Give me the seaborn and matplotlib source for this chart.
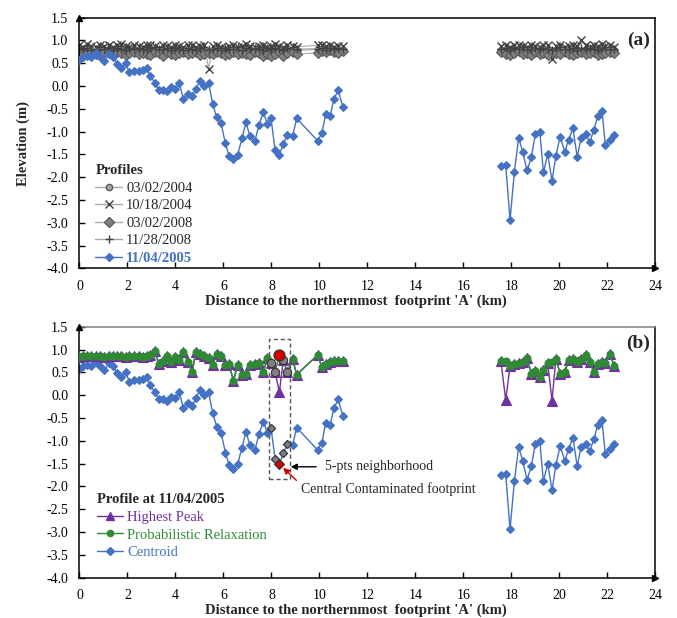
import matplotlib
matplotlib.use("Agg")
import matplotlib.pyplot as plt
import numpy as np
import pandas as pd
import seaborn as sns
from matplotlib.lines import Line2D
from matplotlib.patches import Rectangle

# ---------------------------------------------------------------- data
# along-track distance (km) of the footprints, northern and southern groups
km_north = [0.00, 0.13, 0.30, 0.48, 0.67, 0.85, 1.03, 1.24, 1.41, 1.58,
            1.73, 1.92, 2.08, 2.27, 2.47, 2.63, 2.80, 2.94, 3.15, 3.30,
            3.49, 3.63, 3.81, 3.98, 4.16, 4.33, 4.51, 4.69, 4.85, 5.02,
            5.20, 5.38, 5.55, 5.72, 5.90, 6.08, 6.24, 6.41, 6.59, 6.77,
            6.94, 7.10, 7.31, 7.48, 7.66, 7.83, 7.98, 8.15, 8.33, 8.49,
            8.66, 8.88, 9.05, 9.92, 10.10, 10.26, 10.44, 10.60, 10.78, 10.97]
km_south = [17.56, 17.76, 17.94, 18.12, 18.30, 18.47, 18.65, 18.83, 18.99, 19.18,
            19.33, 19.51, 19.69, 19.85, 20.03, 20.22, 20.38, 20.56, 20.74, 20.90,
            21.09, 21.26, 21.43, 21.59, 21.77, 21.91, 22.10, 22.28]

# 11/04/2005 profile, centroid solution (m)
centroid_north = [0.58, 0.63, 0.66, 0.64, 0.72, 0.63, 0.55, 0.70, 0.63, 0.48,
                  0.40, 0.50, 0.30, 0.34, 0.33, 0.35, 0.39, 0.22, 0.07, -0.09,
                  -0.09, -0.12, -0.03, -0.07, 0.06, -0.29, -0.18, -0.23, -0.07, 0.12,
                  0.01, 0.06, -0.39, -0.69, -0.82, -1.26, -1.54, -1.61, -1.51, -1.15,
                  -0.80, -1.10, -1.20, -0.85, -0.58, -0.83, -0.71, -1.40, -1.51, -1.27,
                  -1.07, -1.10, -0.71, -1.20, -1.04, -0.61, -0.66, -0.29, -0.09, -0.45]
centroid_south = [-1.75, -1.73, -2.94, -1.89, -1.13, -1.45, -1.85, -1.56, -1.06, -1.00,
                  -1.89, -1.50, -2.08, -1.53, -1.11, -1.44, -1.18, -0.93, -1.56, -1.13,
                  -1.06, -1.23, -0.97, -0.66, -0.54, -1.29, -1.18, -1.07]

# 11/04/2005 profile, probabilistic relaxation solution (m)
relax_north = [0.84, 0.86, 0.85, 0.87, 0.85, 0.86, 0.84, 0.87, 0.86, 0.85,
               0.87, 0.84, 0.86, 0.85, 0.86, 0.84, 0.86, 0.88, 0.96, 0.69,
               0.75, 0.86, 0.72, 0.83, 0.78, 0.94, 0.73, 0.50, 0.95, 0.91,
               0.86, 0.82, 0.66, 0.91, 0.85, 0.66, 0.69, 0.31, 0.66, 0.44,
               0.47, 0.66, 0.68, 0.71, 0.50, 0.82, 0.70, 0.50, 0.88, 0.77,
               0.50, 0.80, 0.45, 0.88, 0.62, 0.68, 0.72, 0.74, 0.76, 0.74]
relax_south = [0.75, 0.75, 0.64, 0.69, 0.70, 0.72, 0.82, 0.47, 0.52, 0.40,
               0.55, 0.70, 0.72, 0.80, 0.47, 0.50, 0.77, 0.80, 0.73, 0.80,
               0.88, 0.73, 0.51, 0.69, 0.73, 0.70, 0.90, 0.64]

# 11/04/2005 profile, highest peak solution (m)
peak_north = [0.84, 0.86, 0.85, 0.87, 0.85, 0.86, 0.84, 0.87, 0.86, 0.85,
              0.87, 0.84, 0.86, 0.85, 0.86, 0.84, 0.86, 0.88, 0.96, 0.69,
              0.75, 0.86, 0.72, 0.83, 0.78, 0.94, 0.73, 0.50, 0.95, 0.91,
              0.86, 0.82, 0.66, 0.91, 0.85, 0.66, 0.69, 0.31, 0.66, 0.44,
              0.47, 0.66, 0.68, 0.71, 0.50, 0.82, 0.70, 0.50, 0.07, 0.77,
              0.50, 0.80, 0.45, 0.88, 0.62, 0.68, 0.72, 0.74, 0.76, 0.74]
peak_south = [0.75, -0.11, 0.64, 0.69, 0.70, 0.72, 0.82, 0.47, 0.52, 0.40,
              0.55, 0.70, -0.12, 0.80, 0.47, 0.50, 0.77, 0.80, 0.73, 0.80,
              0.88, 0.73, 0.51, 0.69, 0.73, 0.70, 0.90, 0.64]

# reference profiles from other dates (m)
p20040302_north = [0.80, 0.78, 0.82, 0.79, 0.77, 0.81, 0.78, 0.80, 0.76, 0.79,
                   0.82, 0.78, 0.77, 0.80, 0.79, 0.76, 0.78, 0.81, 0.79, 0.77,
                   0.80, 0.78, 0.76, 0.79, 0.81, 0.78, 0.77, 0.80, 0.75, 0.78,
                   0.80, 0.77, 0.79, 0.81, 0.78, 0.76, 0.79, 0.80, 0.77, 0.78,
                   0.82, 0.79, 0.76, 0.78, 0.80, 0.77, 0.79, 0.81, 0.78, 0.76,
                   0.80, 0.79, 0.78, 0.80, 0.82, 0.79, 0.81, 0.78, 0.80, 0.79]
p20040302_south = [0.80, 0.78, 0.76, 0.79, 0.81, 0.77, 0.78, 0.80, 0.76, 0.79,
                   0.81, 0.78, 0.77, 0.80, 0.79, 0.76, 0.78, 0.81, 0.80, 0.77,
                   0.79, 0.82, 0.78, 0.80, 0.77, 0.79, 0.81, 0.78]

p20041018_north = [0.90, 0.86, 0.92, 0.88, 0.85, 0.90, 0.87, 0.91, 0.86, 0.89,
                   0.92, 0.87, 0.85, 0.90, 0.88, 0.86, 0.91, 0.89, 0.87, 0.84,
                   0.90, 0.88, 0.86, 0.91, 0.87, 0.85, 0.89, 0.90, 0.86, 0.88,
                   0.91, 0.38, 0.87, 0.89, 0.86, 0.84, 0.88, 0.90, 0.86, 0.87,
                   0.92, 0.88, 0.85, 0.87, 0.91, 0.86, 0.88, 0.93, 0.87, 0.85,
                   0.90, 0.88, 0.86, 0.89, 0.91, 0.87, 0.90, 0.86, 0.88, 0.87]
p20041018_south = [0.88, 0.90, 0.86, 0.89, 0.91, 0.87, 0.85, 0.90, 0.88, 0.86,
                   0.91, 0.89, 0.60, 0.87, 0.90, 0.86, 0.88, 0.91, 0.87, 1.00,
                   0.89, 0.86, 0.90, 0.88, 0.92, 0.87, 0.89, 0.86]

p20080302_north = [0.74, 0.70, 0.73, 0.76, 0.71, 0.69, 0.74, 0.72, 0.70, 0.75,
                   0.73, 0.68, 0.72, 0.74, 0.70, 0.73, 0.71, 0.69, 0.75, 0.72,
                   0.66, 0.74, 0.71, 0.68, 0.73, 0.75, 0.70, 0.72, 0.74, 0.69,
                   0.71, 0.73, 0.70, 0.74, 0.72, 0.68, 0.71, 0.75, 0.70, 0.73,
                   0.71, 0.69, 0.74, 0.72, 0.66, 0.70, 0.65, 0.71, 0.74, 0.65,
                   0.72, 0.75, 0.70, 0.73, 0.76, 0.74, 0.78, 0.75, 0.73, 0.76]
p20080302_south = [0.74, 0.71, 0.69, 0.73, 0.76, 0.70, 0.72, 0.68, 0.74, 0.71,
                   0.73, 0.69, 0.75, 0.72, 0.70, 0.74, 0.71, 0.68, 0.73, 0.75,
                   0.70, 0.72, 0.74, 0.69, 0.71, 0.73, 0.75, 0.72]

p20081128_north = [0.83, 0.81, 0.84, 0.80, 0.82, 0.85, 0.81, 0.83, 0.80, 0.84,
                   0.82, 0.79, 0.83, 0.81, 0.84, 0.82, 0.80, 0.83, 0.85, 0.81,
                   0.82, 0.84, 0.80, 0.83, 0.81, 0.79, 0.84, 0.82, 0.80, 0.83,
                   0.85, 0.81, 0.82, 0.84, 0.80, 0.83, 0.81, 0.82, 0.85, 0.80,
                   0.83, 0.81, 0.84, 0.82, 0.79, 0.83, 0.81, 0.84, 0.82, 0.80,
                   0.83, 0.85, 0.81, 0.82, 0.84, 0.80, 0.83, 0.81, 0.84, 0.82]
p20081128_south = [0.82, 0.84, 0.80, 0.83, 0.81, 0.85, 0.82, 0.79, 0.83, 0.81,
                   0.84, 0.82, 0.80, 0.83, 0.85, 0.81, 0.82, 0.84, 0.80, 0.83,
                   0.81, 0.84, 0.82, 0.80, 0.83, 0.85, 0.81, 0.82]

# footprint indices (northern group) of the contaminated footprint and its neighbours
central_idx = 48
neighbour_idx = [46, 47, 49, 50]

x_ticks = [0, 2, 4, 6, 8, 10, 12, 14, 16, 18, 20, 22, 24]
y_ticks = [-4.0, -3.5, -3.0, -2.5, -2.0, -1.5, -1.0, -0.5, 0.0, 0.5, 1.0, 1.5]

# ---------------------------------------------------------------- style
sns.set_theme(style="white")
plt.rcParams['font.family'] = ['Liberation Serif', 'DejaVu Serif']
plt.rcParams['axes.unicode_minus'] = False

BLUE = '#4472C4'
GREEN = '#2E8B34'
PURPLE = '#7030A0'
RED = '#D00000'


def frame(yn, ys):
    return pd.DataFrame({'km': km_north + km_south,
                         'elev': yn + ys,
                         'seg': ['N'] * len(km_north) + ['S'] * len(km_south)})


def draw(ax, yn, ys, color, marker, ms, mfc=None, mec=None, lw=1.0, lc=None, mew=0.8, z=2):
    sns.lineplot(data=frame(yn, ys), x='km', y='elev', units='seg', estimator=None,
                 sort=False, ax=ax, legend=False, color=lc or color, linewidth=lw,
                 marker=marker, markersize=ms, markerfacecolor=mfc or color,
                 markeredgecolor=mec or color, markeredgewidth=mew, zorder=z)


def style_axes(ax, top_color='black'):
    ax.set_xlim(0, 24)
    ax.set_ylim(-4.0, 1.5)
    ax.set_xticks(x_ticks)
    ax.set_yticks(y_ticks)
    ax.set_yticklabels([f'{v:.1f}' for v in y_ticks])
    ax.tick_params(axis='both', direction='in', length=4, width=1, labelsize=10,
                   colors='black', pad=8, bottom=True, left=True)
    for side in ['left', 'bottom', 'right']:
        ax.spines[side].set_color('black')
        ax.spines[side].set_linewidth(1.1)
    ax.spines['top'].set_color(top_color)
    ax.spines['top'].set_linewidth(1.1)
    ax.set_xlabel("Distance to the northernmost  footprint 'A' (km)",
                  fontsize=10.5, fontweight='bold')
    ax.xaxis.set_label_coords(0.479, -0.105)
    ax.set_ylabel('')
    # arrow heads at the ends of the axes
    ax.plot([0], [1], marker='^', color='black', ms=5, transform=ax.transAxes,
            clip_on=False, zorder=5)
    ax.plot([1], [0], marker='>', color='black', ms=5, transform=ax.transAxes,
            clip_on=False, zorder=5)


fig = plt.figure(figsize=(6.77, 6.18), dpi=100)
ax1 = fig.add_axes([0.1174, 0.5657, 0.8508, 0.4058])
ax2 = fig.add_axes([0.1174, 0.0654, 0.8508, 0.4058])

# ---------------------------------------------------------------- panel (a)
LINE_GREY = '#A8A8A8'
draw(ax1, p20040302_north, p20040302_south, '#A6A6A6', 'o', 4.5, mec='#595959', lc=LINE_GREY, lw=0.8)
draw(ax1, p20041018_north, p20041018_south, '#404040', 'x', 6, lc=LINE_GREY, lw=0.8, mew=1.0)
draw(ax1, p20080302_north, p20080302_south, '#808080', 'D', 5, mec='#595959', lc=LINE_GREY, lw=0.8)
draw(ax1, p20081128_north, p20081128_south, '#404040', '+', 5.5, lc=LINE_GREY, lw=0.8, mew=1.0)
draw(ax1, centroid_north, centroid_south, BLUE, 'D', 4.5, z=3)
style_axes(ax1)
ax1.set_ylabel('Elevation (m)', fontsize=10.5, fontweight='bold')
ax1.yaxis.set_label_coords(-0.086, 0.5)
ax1.text(0.99, 0.944, '(a)', transform=ax1.transAxes, ha='right', va='top',
         fontsize=14, fontweight='bold')

h_a = [Line2D([], [], color=LINE_GREY, lw=1, marker='o', ms=4.5, mfc='#A6A6A6', mec='#595959'),
       Line2D([], [], color=LINE_GREY, lw=1, marker='x', ms=6, mec='#404040', mew=1),
       Line2D([], [], color=LINE_GREY, lw=1, marker='D', ms=5, mfc='#808080', mec='#595959'),
       Line2D([], [], color=LINE_GREY, lw=1, marker='+', ms=5.5, mec='#404040', mew=1),
       Line2D([], [], color=BLUE, lw=1, marker='D', ms=4.5, mfc=BLUE, mec=BLUE)]
leg_a = ax1.legend(h_a, ['03/02/2004', '10/18/2004', '03/02/2008', '11/28/2008', '11/04/2005'],
                   title='Profiles', loc='upper left', bbox_to_anchor=(0.015, 0.445),
                   frameon=False, fontsize=10.5, title_fontproperties={'weight': 'bold', 'size': 10.5},
                   handlelength=1.8, handletextpad=0.3, labelspacing=0.3, borderpad=0,
                   alignment='left')
leg_a.get_texts()[-1].set_color(BLUE)
leg_a.get_texts()[-1].set_fontweight('bold')

# ---------------------------------------------------------------- panel (b)
draw(ax2, centroid_north, centroid_south, BLUE, 'D', 4.5)
draw(ax2, peak_north, peak_south, PURPLE, '^', 6.5, z=3)
draw(ax2, relax_north, relax_south, GREEN, 'o', 5, z=4)

# contaminated footprint and its 5-point neighbourhood
nb_x = [km_north[i] for i in neighbour_idx]
ax2.plot(nb_x, [centroid_north[i] for i in neighbour_idx], linestyle='none', marker='D',
         ms=4, mfc='#7F7F7F', mec='#333333', mew=0.8, zorder=6)
ax2.plot([km_north[central_idx]], [centroid_north[central_idx]], linestyle='none', marker='D',
         ms=5, mfc=RED, mec='#333333', mew=0.8, zorder=7)
ax2.plot(nb_x, [relax_north[i] for i in neighbour_idx], linestyle='none', marker='o',
         ms=6, mfc='#808080', mec='#333333', mew=0.8, zorder=6)
ax2.plot([km_north[central_idx]], [relax_north[central_idx]], linestyle='none', marker='o',
         ms=8, mfc=RED, mec='#333333', mew=0.8, zorder=7)

ax2.add_patch(Rectangle((7.9, -1.84), 0.87, 3.08, fill=False, edgecolor='#555555',
                        linestyle=(0, (3, 2)), linewidth=1.0, zorder=5))
ax2.annotate('5-pts neighborhood', xy=(8.8, -1.57), xytext=(10.23, -1.57),
             ha='left', va='center', fontsize=10,
             arrowprops=dict(arrowstyle='-|>', color='black', lw=1.0,
                             shrinkA=4, shrinkB=0, mutation_scale=9))
ax2.annotate('Central Contaminated footprint',
             xy=(km_north[central_idx] + 0.07, centroid_north[central_idx] - 0.04),
             xytext=(9.22, -2.05), ha='left', va='center', fontsize=10,
             arrowprops=dict(arrowstyle='-|>', color=RED, lw=1.0, shrinkA=1, shrinkB=2,
                             mutation_scale=9, relpos=(0, 0.8)))

style_axes(ax2, top_color='#7F7F7F')
ax2.text(0.99, 0.967, '(b)', transform=ax2.transAxes, ha='right', va='top',
         fontsize=14, fontweight='bold')

h_b = [Line2D([], [], color=PURPLE, lw=1, marker='^', ms=5.5, mfc=PURPLE, mec=PURPLE),
       Line2D([], [], color=GREEN, lw=1, marker='o', ms=4.5, mfc=GREEN, mec=GREEN),
       Line2D([], [], color=BLUE, lw=1, marker='D', ms=4, mfc=BLUE, mec=BLUE)]
leg_b = ax2.legend(h_b, ['Highest Peak', 'Probabilistic Relaxation', 'Centroid'],
                   title='Profile at 11/04/2005', loc='upper left', bbox_to_anchor=(0.017, 0.365),
                   frameon=False, fontsize=10.5, title_fontproperties={'weight': 'bold', 'size': 10.5},
                   handlelength=1.8, handletextpad=0.3, labelspacing=0.3, borderpad=0,
                   alignment='left')
for txt, col in zip(leg_b.get_texts(), [PURPLE, GREEN, BLUE]):
    txt.set_color(col)

fig.savefig('out.png', dpi=100)
